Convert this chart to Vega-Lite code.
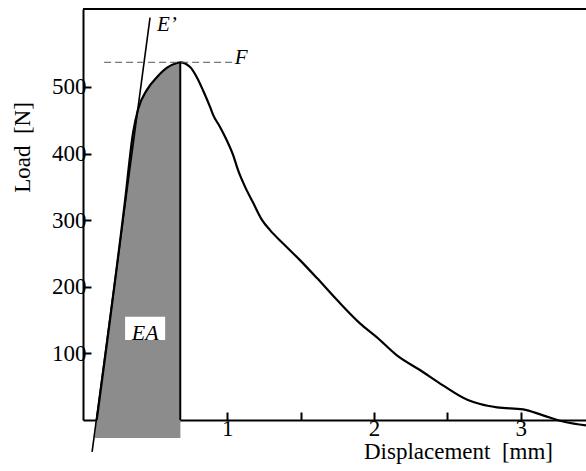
{
  "$schema": "https://vega.github.io/schema/vega-lite/v6.json",
  "width": 503,
  "height": 411,
  "autosize": {"type": "none"},
  "padding": {"left": 83, "top": 9, "right": 0, "bottom": 51},
  "background": "white",
  "config": {
    "view": {"stroke": null},
    "font": "Liberation Serif",
    "axis": {
      "grid": false,
      "domainColor": "black",
      "domainWidth": 2,
      "tickColor": "black",
      "tickWidth": 2,
      "tickSize": -8,
      "labelColor": "black",
      "labelFont": "Liberation Serif",
      "labelFontSize": 23,
      "titleFont": "Liberation Serif",
      "titleFontSize": 23,
      "titleFontWeight": "normal",
      "titleColor": "black",
      "zindex": 1
    }
  },
  "datasets": {
    "curve": [
      {"x": 0.1095, "y": 0},
      {"x": 0.303, "y": 330},
      {"x": 0.357, "y": 431},
      {"x": 0.391, "y": 466},
      {"x": 0.453, "y": 496},
      {"x": 0.521, "y": 515},
      {"x": 0.589, "y": 529},
      {"x": 0.657, "y": 536},
      {"x": 0.678, "y": 537},
      {"x": 0.746, "y": 530},
      {"x": 0.791, "y": 515},
      {"x": 0.834, "y": 495},
      {"x": 0.882, "y": 470},
      {"x": 0.903, "y": 458},
      {"x": 0.95, "y": 440},
      {"x": 0.996, "y": 420},
      {"x": 1.039, "y": 398},
      {"x": 1.073, "y": 375},
      {"x": 1.121, "y": 350},
      {"x": 1.176, "y": 326},
      {"x": 1.237, "y": 300},
      {"x": 1.291, "y": 285},
      {"x": 1.38, "y": 265},
      {"x": 1.495, "y": 240},
      {"x": 1.611, "y": 213},
      {"x": 1.748, "y": 180},
      {"x": 1.904, "y": 145},
      {"x": 2.02, "y": 124},
      {"x": 2.156, "y": 97},
      {"x": 2.313, "y": 75},
      {"x": 2.47, "y": 52},
      {"x": 2.64, "y": 30},
      {"x": 2.723, "y": 24},
      {"x": 2.839, "y": 19},
      {"x": 3.016, "y": 16},
      {"x": 3.152, "y": 7},
      {"x": 3.302, "y": -3},
      {"x": 3.445, "y": -8}
    ],
    "energy": [
      {"x": 0.096, "y": -27, "y0": -27},
      {"x": 0.1095, "y": 0, "y0": -27},
      {"x": 0.303, "y": 330, "y0": -27},
      {"x": 0.357, "y": 431, "y0": -27},
      {"x": 0.391, "y": 466, "y0": -27},
      {"x": 0.453, "y": 496, "y0": -27},
      {"x": 0.521, "y": 515, "y0": -27},
      {"x": 0.589, "y": 529, "y0": -27},
      {"x": 0.657, "y": 536, "y0": -27},
      {"x": 0.68, "y": 537, "y0": -27}
    ],
    "peak": [{"x": 0.679, "y": 0, "y2": 537}],
    "tangent": [{"x": 0.078, "y": -48}, {"x": 0.473, "y": 604}],
    "force": [{"x": 0.16, "y": 537}, {"x": 1.04, "y": 537}],
    "frame": [{"x": 0.016, "x2": 3.445, "y": 617}],
    "labelbox": [{"x": 0.303, "x2": 0.576, "y": 120, "y2": 155}],
    "labels": [
      {"x": 0.52, "y": 584, "text": "E’"},
      {"x": 1.05, "y": 534, "text": "F"},
      {"x": 0.44, "y": 131, "text": "EA"}
    ]
  },
  "encoding": {
    "x": {
      "field": "x",
      "type": "quantitative",
      "scale": {"domain": [0.016, 3.445], "nice": false, "zero": false},
      "axis": {
        "values": [1, 1.5, 2, 2.5, 3],
        "labelExpr": "datum.value % 1 === 0 ? format(datum.value, 'd') : ''",
        "labelPadding": 5,
        "title": "Displacement\u00a0\u00a0[mm]",
        "titleAnchor": "start",
        "titleAlign": "center",
        "titleX": 375,
        "titleY": 20,
        "titleBaseline": "top"
      }
    },
    "y": {
      "field": "y",
      "type": "quantitative",
      "scale": {"domain": [0, 617], "nice": false, "zero": false},
      "axis": {
        "values": [100, 200, 300, 400, 500],
        "labelPadding": 5,
        "title": "Load\u00a0\u00a0[N]",
        "titleAlign": "center",
        "titleBaseline": "middle",
        "titleX": -61,
        "titleY": 138
      }
    }
  },
  "layer": [
    {
      "data": {"name": "energy"},
      "mark": {"type": "area", "color": "#8c8c8c", "opacity": 1},
      "encoding": {"y2": {"field": "y0"}}
    },
    {
      "data": {"name": "peak"},
      "mark": {"type": "rule", "color": "black", "strokeWidth": 2},
      "encoding": {"y2": {"field": "y2"}}
    },
    {
      "data": {"name": "curve"},
      "mark": {"type": "line", "color": "black", "strokeWidth": 2.2, "interpolate": "monotone"},
      "encoding": {}
    },
    {
      "data": {"name": "tangent"},
      "mark": {"type": "line", "color": "black", "strokeWidth": 1.6},
      "encoding": {}
    },
    {
      "data": {"name": "force"},
      "mark": {"type": "line", "color": "#555555", "strokeWidth": 1, "strokeDash": [7, 4]},
      "encoding": {}
    },
    {
      "data": {"name": "frame"},
      "mark": {"type": "rule", "color": "black", "strokeWidth": 2},
      "encoding": {"x2": {"field": "x2"}}
    },
    {
      "data": {"name": "labelbox"},
      "mark": {"type": "rect", "color": "white"},
      "encoding": {"x2": {"field": "x2"}, "y2": {"field": "y2"}}
    },
    {
      "data": {"name": "labels"},
      "transform": [{"filter": "datum.text !== 'EA'"}],
      "mark": {"type": "text", "font": "Liberation Serif", "fontStyle": "italic", "fontSize": 21, "color": "black", "baseline": "alphabetic", "align": "left"},
      "encoding": {"text": {"field": "text"}}
    },
    {
      "data": {"name": "labels"},
      "transform": [{"filter": "datum.text === 'EA'"}],
      "mark": {"type": "text", "font": "Liberation Serif", "fontStyle": "italic", "fontSize": 22, "color": "black", "baseline": "middle", "align": "center"},
      "encoding": {"text": {"field": "text"}}
    }
  ]
}
